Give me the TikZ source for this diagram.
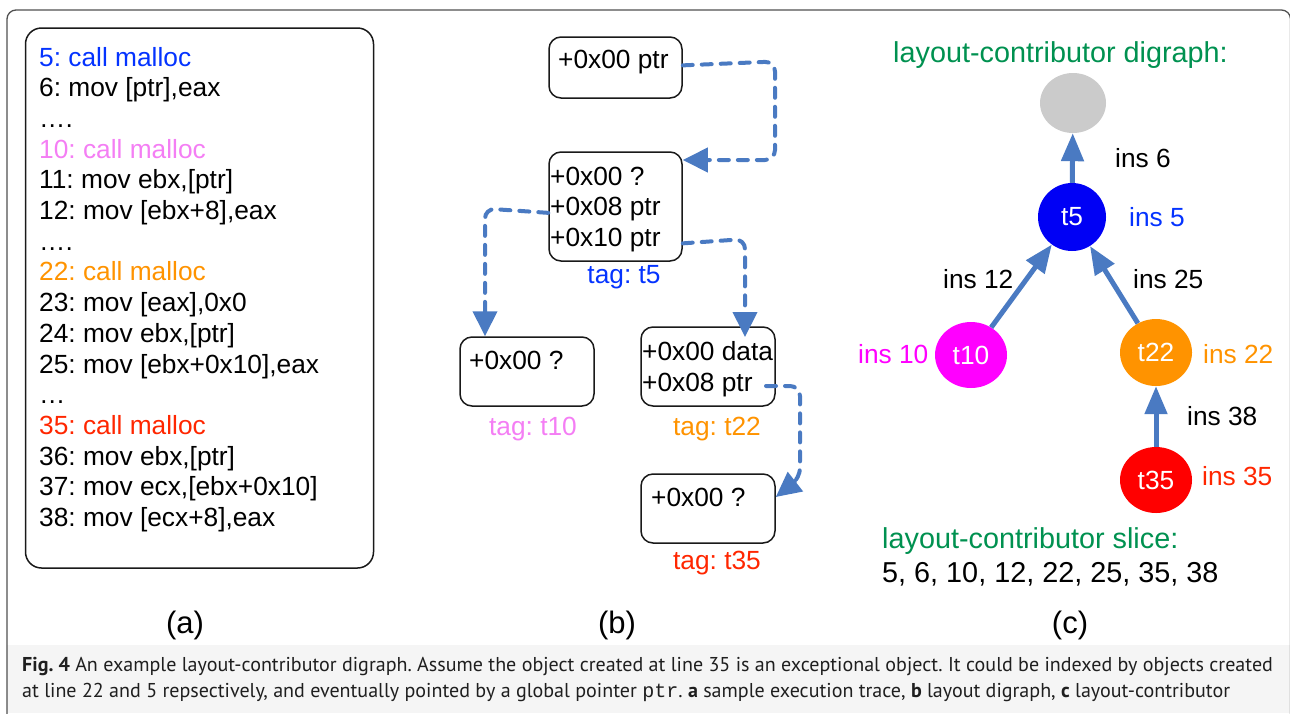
\documentclass[tikz,border=0pt]{standalone}
\usepackage{fontspec}
\setmainfont{Liberation Sans}
\newfontfamily\capfont{PT Sans}
\newfontfamily\capmono{Liberation Mono}
\usetikzlibrary{shapes.geometric,arrows.meta}
\frenchspacing
\definecolor{cblue}{HTML}{0433FF}
\definecolor{nblue}{HTML}{0000F5}
\definecolor{cviolet}{HTML}{F47EF4}
\definecolor{cmag}{HTML}{FF00FF}
\definecolor{corange}{HTML}{FF9300}
\definecolor{cred}{HTML}{FF2600}
\definecolor{nred}{HTML}{FF0000}
\definecolor{cgreen}{HTML}{009150}
\definecolor{arrblue}{HTML}{4A7AC2}
\definecolor{ngray}{HTML}{CBCBCB}
\definecolor{capbg}{HTML}{F5F5F5}
\definecolor{framec}{HTML}{505050}
\tikzset{
  txt/.style={inner sep=0pt, anchor=base west, font=\fontsize{26.3}{30}\selectfont},
  ctxt/.style={inner sep=0pt, anchor=base, font=\fontsize{26.3}{30}\selectfont},
  bigtxt/.style={inner sep=0pt, anchor=base west, font=\fontsize{28.8}{32}\selectfont},
  sublbl/.style={inner sep=0pt, anchor=base, font=\fontsize{31}{34}\selectfont},
  memobox/.style={draw=black!90, line width=1.5pt, rounded corners=12pt, inner sep=0pt},
  dasharr/.style={draw=arrblue, line width=4pt, dash pattern=on 10pt off 9pt, line cap=round,
                  rounded corners=10pt, -{Triangle[length=25pt,width=24pt]}},
  solarr/.style={draw=arrblue, line width=5pt, -{Triangle[length=28pt,width=22pt]}},
  tnode/.style={ellipse, inner sep=0pt, text=white, font=\fontsize{26.3}{30}\selectfont},
  captxt/.style={inner sep=0pt, anchor=base west, text=black!88, font=\capfont\fontsize{20.05}{23}\selectfont}
}
\begin{document}
\begin{tikzpicture}[x=1pt,y=-1pt]
\useasboundingbox (0,0) rectangle (1290,713);
% frame and caption background
\fill[capbg] (7,645) rectangle (1290,713);
\draw[framec, line width=1.3pt, rounded corners=9pt] (7,730) -- (7,10) -- (1290.5,10) -- (1290.5,730);

% ---------------- panel (a)
\node[memobox, rounded corners=16pt, minimum width=348pt, minimum height=540pt] (pa) at (199.5,298) {};
\node[txt, text=cblue]   (a1)  at (39,66.0)  {5: call malloc};
\node[txt]               (a2)  at (39,96.7)  {6: mov [ptr],eax};
\node[txt]               (a3)  at (39,127.4) {….};
\node[txt, text=cviolet] (a4)  at (39,158.1) {10: call malloc};
\node[txt]               (a5)  at (39,188.8) {11: mov ebx,[ptr]};
\node[txt]               (a6)  at (39,219.5) {12: mov [ebx+8],eax};
\node[txt]               (a7)  at (39,250.2) {….};
\node[txt, text=corange] (a8)  at (39,280.9) {22: call malloc};
\node[txt]               (a9)  at (39,311.6) {23: mov [eax],0x0};
\node[txt]               (a10) at (39,342.3) {24: mov ebx,[ptr]};
\node[txt]               (a11) at (39,373.0) {25: mov [ebx+0x10],eax};
\node[txt]               (a12) at (39,403.7) {…};
\node[txt, text=cred]    (a13) at (39,434.4) {35: call malloc};
\node[txt]               (a14) at (39,465.1) {36: mov ebx,[ptr]};
\node[txt]               (a15) at (39,495.8) {37: mov ecx,[ebx+0x10]};
\node[txt]               (a16) at (39,526.5) {38: mov [ecx+8],eax};

% ---------------- panel (b)
\node[memobox, minimum width=133pt, minimum height=61pt]  (b1) at (615.5,67.5) {};
\node[memobox, minimum width=133pt, minimum height=109pt] (b2) at (615.5,206.5) {};
\node[memobox, minimum width=134pt, minimum height=69pt]  (b3) at (527,371.5) {};
\node[memobox, minimum width=134pt, minimum height=79pt]  (b4) at (708,366.5) {};
\node[memobox, minimum width=134pt, minimum height=69pt]  (b5) at (708,508.5) {};

\node[txt] (b1t) at (558,68) {+0x00 ptr};
\node[txt] (b2a) at (550,185) {+0x00 ?};
\node[txt] (b2b) at (550,215.5) {+0x08 ptr};
\node[txt] (b2c) at (550,246) {+0x10 ptr};
\node[ctxt, text=cblue] (tag5) at (624,283) {tag: t5};
\node[txt] (b3t) at (469,369) {+0x00 ?};
\node[ctxt, text=cviolet] (tag10) at (533,435) {tag: t10};
\node[txt] (b4a) at (642,360) {+0x00 data};
\node[txt] (b4b) at (642,391) {+0x08 ptr};
\node[ctxt, text=corange] (tag22) at (717,435) {tag: t22};
\node[txt] (b5t) at (651,506) {+0x00 ?};
\node[ctxt, text=cred] (tag35) at (717,569) {tag: t35};

\coordinate (a4s) at (766,386);
\draw[dasharr] (b1.east |- b1t.mid) -- (775,61.5) -- (775,160) -- (b2.east |- 0,160);
\draw[dasharr] (b2.west |- b2b.mid) -- (485,208.5) -- (b3.north -| 485,0);
\draw[dasharr] (b2.east |- b2c.mid) -- (745,239) -- (745,337);
\draw[dasharr] (a4s) -- (800,386) -- (800,478) -- (b5.east |- 0,497);

% ---------------- panel (c)
\node[bigtxt, text=cgreen] (ttl) at (893,62) {layout-contributor digraph:};
\node[tnode, fill=ngray, minimum width=66pt, minimum height=60pt] (g) at (1073,103) {};
\node[tnode, fill=nblue, minimum width=68pt, minimum height=68pt] (t5) at (1072,217) {t5};
\node[tnode, fill=cmag, minimum width=72pt, minimum height=66pt] (t10) at (971,355) {t10};
\node[tnode, fill=corange, minimum width=72pt, minimum height=67pt] (t22) at (1156,352.5) {t22};
\node[tnode, fill=nred, minimum width=72pt, minimum height=66pt] (t35) at (1156,480) {t35};

\draw[solarr] (t5) -- (g);
\draw[solarr] (t10) -- (t5);
\draw[solarr] (t22) -- (t5);
\draw[solarr] (t35) -- (t22);

\node[txt] (i6) at (1115,167) {ins 6};
\node[txt, text=cblue] (i5) at (1129,226) {ins 5};
\node[txt] (i12) at (943,288) {ins 12};
\node[txt] (i25) at (1133,288) {ins 25};
\node[txt, text=cmag] (i10) at (858,363) {ins 10};
\node[txt, text=corange] (i22) at (1203,363) {ins 22};
\node[txt] (i38) at (1187,425) {ins 38};
\node[txt, text=cred] (i35) at (1202,485) {ins 35};
\node[bigtxt, text=cgreen] (slt) at (882,548) {layout-contributor slice:};
\node[bigtxt] (sln) at (882,582) {5, 6, 10, 12, 22, 25, 35, 38};

% sub-labels
\node[sublbl] (la) at (185,633) {(a)};
\node[sublbl] (lb) at (617,633) {(b)};
\node[sublbl] (lc) at (1070,633) {(c)};

% caption
\node[captxt] (cap1) at (22,671) {\textbf{Fig. 4} An example layout-contributor digraph. Assume the object created at line 35 is an exceptional object. It could be indexed by objects created};
\node[captxt] (cap2) at (22,697) {at line 22 and 5 repsectively, and eventually pointed by a global pointer {\capmono ptr}. \textbf{a} sample execution trace, \textbf{b} layout digraph, \textbf{c} layout-contributor};
\end{tikzpicture}
\end{document}
